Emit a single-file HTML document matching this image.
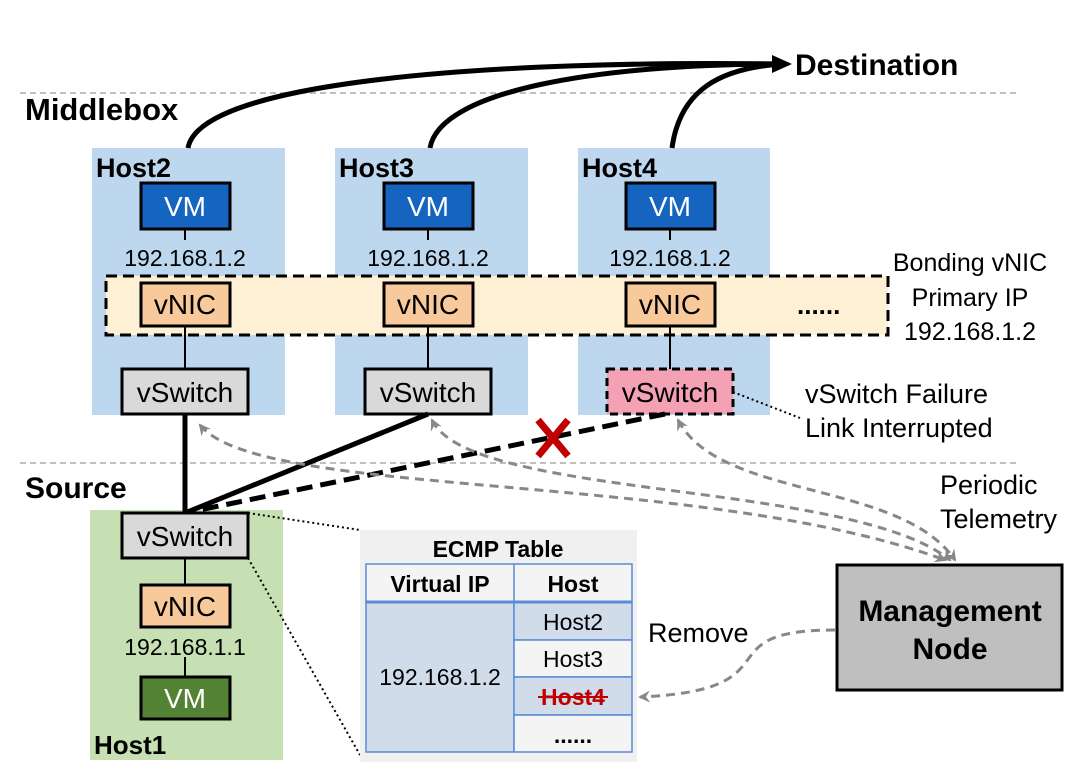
<!DOCTYPE html>
<html><head><style>
body{margin:0;background:#fff;width:1080px;height:769px;overflow:hidden;font-family:"Liberation Sans",sans-serif}
</style></head><body>
<svg width="1080" height="769" xmlns="http://www.w3.org/2000/svg" font-family="Liberation Sans, sans-serif">
<defs>
<marker id="ab" markerWidth="10" markerHeight="10" refX="8" refY="5" orient="auto" markerUnits="userSpaceOnUse"><path d="M0,0 L10,5 L0,10 z" fill="#000"/></marker>
<marker id="ag" markerWidth="14" markerHeight="14" refX="10" refY="7" orient="auto-start-reverse" markerUnits="userSpaceOnUse"><path d="M0,1 L12,7 L0,13 L4,7 z" fill="#888"/></marker>
</defs>
<line x1="20" y1="93" x2="1020" y2="93" stroke="#aaa" stroke-dasharray="6,4" stroke-width="1.5"/>
<line x1="20" y1="463" x2="1020" y2="463" stroke="#aaa" stroke-dasharray="6,4" stroke-width="1.5"/>
<text x="795" y="75" font-size="30" font-weight="bold">Destination</text>
<text x="25" y="120" font-size="31" font-weight="bold">Middlebox</text>
<rect x="92" y="148" width="193" height="267" fill="#bdd7ee"/>
<rect x="335" y="148" width="193" height="267" fill="#bdd7ee"/>
<rect x="578" y="148" width="192" height="267" fill="#bdd7ee"/>
<g fill="none" stroke="#000" stroke-width="5">
<path d="M188,148 C200,80 500,60 782,64"/>
<path d="M430,148 C440,90 600,64 782,64"/>
<path d="M672,148 C680,90 720,68 782,64"/>
</g>
<path d="M772,55 L792,64 L772,73 z" fill="#000"/>
<g font-size="27" font-weight="bold"><text x="96" y="177">Host2</text><text x="339" y="177">Host3</text><text x="582" y="177">Host4</text></g>
<rect x="106" y="276" width="782" height="59" fill="#fdf0d5" stroke="#000" stroke-width="3" stroke-dasharray="11,6"/>
<g stroke="#000" stroke-width="2">
<line x1="185" y1="229" x2="185" y2="240"/><line x1="428" y1="229" x2="428" y2="240"/><line x1="670" y1="229" x2="670" y2="240"/>
<line x1="185" y1="326" x2="185" y2="369"/><line x1="428" y1="326" x2="428" y2="369"/><line x1="670" y1="326" x2="670" y2="369"/>
</g>
<g stroke="#000" stroke-width="3">
<rect x="141" y="183" width="89" height="46" fill="#1565c0"/>
<rect x="384" y="183" width="89" height="46" fill="#1565c0"/>
<rect x="626" y="183" width="89" height="46" fill="#1565c0"/>
<rect x="141" y="283" width="89" height="43" fill="#f8c99b"/>
<rect x="384" y="283" width="89" height="43" fill="#f8c99b"/>
<rect x="626" y="283" width="89" height="43" fill="#f8c99b"/>
<rect x="122" y="369" width="126" height="45" fill="#d9d9d9"/>
<rect x="365" y="369" width="126" height="45" fill="#d9d9d9"/>
</g>
<rect x="607" y="369" width="126" height="45" fill="#f4a0b5" stroke="#000" stroke-width="3" stroke-dasharray="8,5"/>
<g font-size="28" text-anchor="middle">
<text x="185" y="216" fill="#fff">VM</text><text x="428" y="216" fill="#fff">VM</text><text x="670" y="216" fill="#fff">VM</text>
<text x="185" y="314">vNIC</text><text x="428" y="314">vNIC</text><text x="670" y="314">vNIC</text>
<text x="185" y="402">vSwitch</text><text x="428" y="402">vSwitch</text><text x="670" y="402">vSwitch</text>
</g>
<g font-size="23" text-anchor="middle"><text x="185" y="266">192.168.1.2</text><text x="428" y="266">192.168.1.2</text><text x="670" y="266">192.168.1.2</text></g>
<text x="797" y="314" font-size="26" font-weight="bold">......</text>
<g font-size="25" text-anchor="middle"><text x="970" y="271">Bonding vNIC</text><text x="970" y="306">Primary IP</text><text x="970" y="340">192.168.1.2</text></g>
<g font-size="27"><text x="805" y="403">vSwitch Failure</text><text x="805" y="437">Link Interrupted</text>
<text x="940" y="494">Periodic</text><text x="940" y="528">Telemetry</text><text x="648" y="642">Remove</text></g>
<line x1="733" y1="392" x2="800" y2="418" stroke="#000" stroke-width="2" stroke-dasharray="2,3"/>
<text x="25" y="498" font-size="30" font-weight="bold">Source</text>
<rect x="90" y="510" width="193" height="250" fill="#c6e0b4"/>
<g stroke="#000" stroke-width="5" fill="none">
<line x1="185" y1="414" x2="185" y2="513"/>
<line x1="428" y1="414" x2="185" y2="513"/>
<line x1="665" y1="414" x2="185" y2="513" stroke-dasharray="16,8"/>
</g>
<g stroke="#c00000" stroke-width="7"><line x1="538" y1="420" x2="568" y2="456"/><line x1="568" y1="420" x2="538" y2="456"/></g>
<g stroke="#888" stroke-width="3" fill="none" stroke-dasharray="9,6" marker-start="url(#ag)" marker-end="url(#ag)">
<path d="M200,425 C260,500 700,470 945,560"/>
<path d="M432,420 C470,500 850,480 950,560"/>
<path d="M678,420 C720,500 900,480 955,560"/>
</g>
<path d="M835,630 C700,630 800,690 640,697" stroke="#888" stroke-width="3" fill="none" stroke-dasharray="9,6" marker-end="url(#ag)"/>
<g stroke="#000" stroke-width="2"><line x1="185" y1="558" x2="185" y2="585"/><line x1="185" y1="657" x2="185" y2="677"/></g>
<g stroke="#000" stroke-width="3">
<rect x="122" y="513" width="126" height="45" fill="#d9d9d9"/>
<rect x="141" y="585" width="89" height="42" fill="#f8c99b"/>
<rect x="141" y="677" width="89" height="42" fill="#548235"/>
</g>
<g font-size="28" text-anchor="middle"><text x="185" y="546">vSwitch</text><text x="185" y="616">vNIC</text><text x="185" y="708" fill="#fff">VM</text></g>
<text x="185" y="655" font-size="23" text-anchor="middle">192.168.1.1</text>
<text x="94" y="754" font-size="26" font-weight="bold">Host1</text>
<g stroke="#000" stroke-width="2" stroke-dasharray="2,3"><line x1="248" y1="513" x2="360" y2="530"/><line x1="248" y1="558" x2="360" y2="755"/></g>
<rect x="360" y="530" width="277" height="232" fill="#f0f0f0"/>
<text x="498" y="557" font-size="23" font-weight="bold" text-anchor="middle">ECMP Table</text>
<g stroke="#5b8ad6" stroke-width="1.5">
<rect x="366" y="564" width="266" height="38" fill="#f4f4f4"/>
<rect x="366" y="602" width="148" height="150" fill="#d0dcea"/>
<rect x="514" y="602" width="118" height="38" fill="#d0dcea"/>
<rect x="514" y="640" width="118" height="37" fill="#f4f4f4"/>
<rect x="514" y="677" width="118" height="38" fill="#d0dcea"/>
<rect x="514" y="715" width="118" height="37" fill="#f4f4f4"/>
<line x1="514" y1="564" x2="514" y2="602"/>
</g>
<line x1="366" y1="602" x2="632" y2="602" stroke="#5b8ad6" stroke-width="3"/>
<g font-size="23" text-anchor="middle">
<text x="440" y="592" font-weight="bold">Virtual IP</text><text x="573" y="592" font-weight="bold">Host</text>
<text x="440" y="685">192.168.1.2</text>
<text x="573" y="630">Host2</text><text x="573" y="667">Host3</text>
<text x="573" y="705" fill="#c00000" font-weight="bold">Host4</text>
<text x="573" y="743" font-weight="bold">......</text>
</g>
<line x1="538" y1="697" x2="608" y2="697" stroke="#c00000" stroke-width="2"/>
<rect x="837" y="565" width="225" height="125" fill="#bfbfbf" stroke="#000" stroke-width="3"/>
<g font-size="30" font-weight="bold" text-anchor="middle"><text x="950" y="621">Management</text><text x="950" y="659">Node</text></g>
</svg>
</body></html>
